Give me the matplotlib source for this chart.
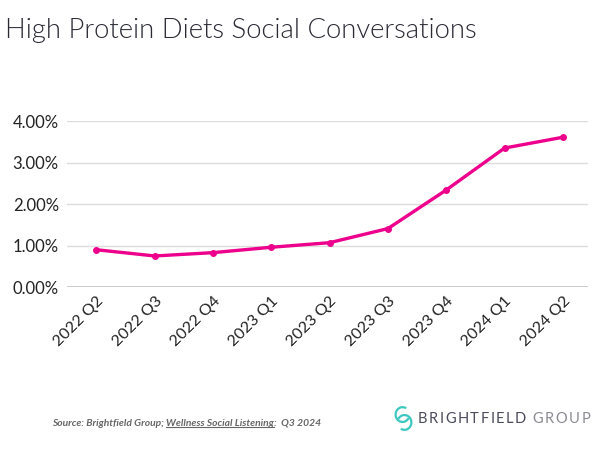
import matplotlib.pyplot as plt
from matplotlib.patches import Arc

quarters = ["2022 Q2", "2022 Q3", "2022 Q4", "2023 Q1", "2023 Q2",
            "2023 Q3", "2023 Q4", "2024 Q1", "2024 Q2"]
share = [0.90, 0.75, 0.83, 0.96, 1.07, 1.41, 2.34, 3.35, 3.61]
yticks = [0, 1, 2, 3, 4]
ylabels = ["0.00%", "1.00%", "2.00%", "3.00%", "4.00%"]

PINK = "#EC008C"
DARK = "#222222"

plt.rcParams["font.family"] = ["Lato", "DejaVu Sans"]

fig = plt.figure(figsize=(6, 4.5), dpi=100)
fig.patch.set_facecolor("white")

ax = fig.add_axes([0.112, 0.362, 0.868, 0.369])
x = list(range(len(quarters)))
ax.plot(x, share, color=PINK, lw=2.4, marker="o", ms=4, zorder=3)

ax.set_xlim(-0.5, 8.43)
ax.set_ylim(0, 4)
ax.set_yticks(yticks)
ax.set_yticklabels(ylabels, fontsize=12, color=DARK)
ax.set_xticks(x)
ax.set_xticklabels(quarters, fontsize=11.5, color=DARK, rotation=45,
                   ha="right", rotation_mode="anchor")
ax.tick_params(length=0, pad=6)
ax.tick_params(axis="x", pad=5)
ax.grid(axis="y", color="#dcdcdc", lw=1)
ax.axhline(0, color="#c4c4c4", lw=1.2, zorder=2)
for s in ax.spines.values():
    s.set_visible(False)
ax.set_facecolor("none")

fig.text(0.008, 0.933, "High Protein Diets Social Conversations",
         fontsize=19.8, fontweight=300, color="#2a2a35", va="center")

# footer source line
fig.canvas.draw()
r = fig.canvas.get_renderer()
W, H = fig.bbox.width, fig.bbox.height
fkw = dict(fontsize=7.4, style="italic", fontweight="bold", color="#666666",
           va="center")
src = fig.text(0.087, 0.06, "Source: Brightfield Group; ", **fkw)
x2 = src.get_window_extent(r).x1 / W
und = fig.text(x2, 0.06, "Wellness Social Listening", **fkw)
bb2 = und.get_window_extent(r)
fig.add_artist(plt.Line2D([x2, bb2.x1 / W], [bb2.y0 / H + 0.002] * 2,
                          color="#666666", lw=0.8))
fig.text(bb2.x1 / W, 0.06, ":  Q3 2024", **fkw)

# logo wordmark with wide tracking, fitted between x=418 and x=590 px
chars = [(ch, "#4a4a5a") for ch in "BRIGHTFIELD"] + [(" ", "#8a8a92")] + \
        [(ch, "#8a8a92") for ch in "GROUP"]
texts = [fig.text(0, 0.068, ch, fontsize=10.5, color=c, va="center")
         for ch, c in chars]
widths = [t.get_window_extent(r).width for t in texts]
track = (590 - 418 - sum(widths)) / (len(texts) - 1)
cx = 418
for t, w in zip(texts, widths):
    t.set_x(cx / W)
    cx += w + track

lax = fig.add_axes([0.655, 0.035, 0.035, 0.07])
lax.set_xlim(0, 1)
lax.set_ylim(0, 1.6)
lax.set_aspect("equal")
lax.axis("off")
lax.add_patch(Arc((0.45, 1.0), 0.7, 0.75, theta1=60, theta2=330,
                  color="#3CC8C0", lw=1.6))
lax.add_patch(Arc((0.55, 0.6), 0.7, 0.75, theta1=240, theta2=150,
                  color="#3CC8C0", lw=1.6))

fig.savefig("out.png", dpi=100, facecolor=fig.get_facecolor())
